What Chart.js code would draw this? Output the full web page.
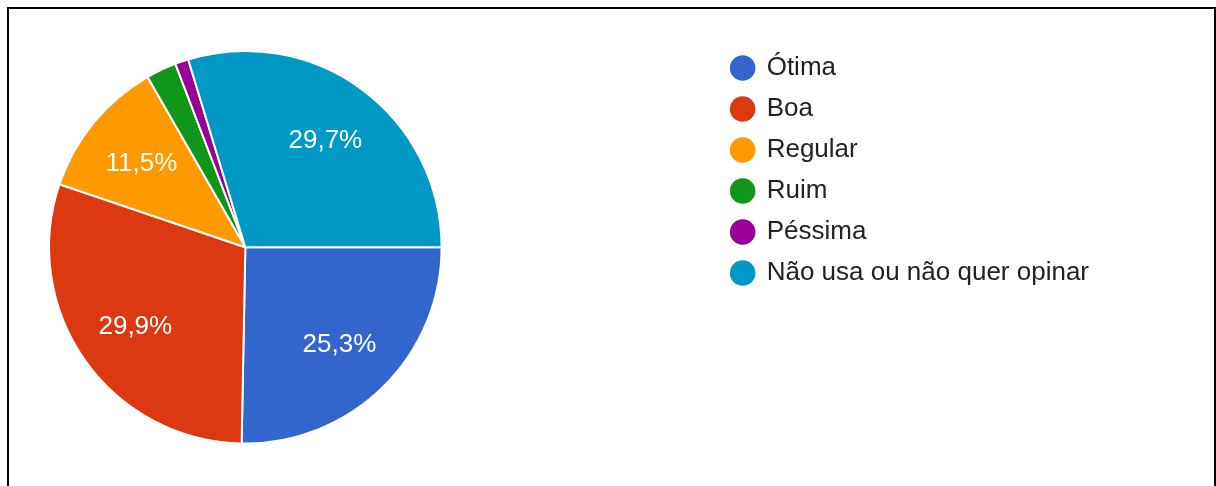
<!DOCTYPE html>
<html>
<head>
<meta charset="utf-8">
<script src="https://cdn.jsdelivr.net/npm/chart.js@4/dist/chart.umd.min.js"></script>
<style>
    html, body { margin: 0; padding: 0; background: #fff; overflow: hidden; }
    #frame {
        position: absolute; left: 7px; top: 7px;
        width: 1205px; height: 520px;
        border: 2px solid #000;
    }
    #wrap { position: absolute; left: 0; top: 0; width: 1216px; height: 486px; }
</style>
</head>
<body>
<div id="frame"></div>
<div id="wrap"><canvas id="pieChart" width="1216" height="486"></canvas></div>
<script>
const categories = ['Ótima', 'Boa', 'Regular', 'Ruim', 'Péssima', 'Não usa ou não quer opinar'];
const percents = [25.3, 29.9, 11.5, 2.5, 1.1, 29.7];
const colors = ['#3366cc', '#dc3912', '#ff9900', '#109618', '#990099', '#0099c6'];

const FONT = '"Liberation Sans", Arial, sans-serif';

// empty layout boxes, used to push the pie and the legend apart
function spacer(position, size) {
    return {
        position: position,
        weight: 0,
        fullSize: false,
        options: {},
        top: 0, left: 0, right: 0, bottom: 0, width: 0, height: 0,
        isHorizontal() { return position === 'top' || position === 'bottom'; },
        update(maxWidth, maxHeight) {
            if (this.isHorizontal()) { this.width = maxWidth; this.height = size; }
            else { this.width = size; this.height = maxHeight; }
        },
        getPadding() { return {top: 0, left: 0, right: 0, bottom: 0}; },
        draw() {}
    };
}

const spacerPlugin = {
    id: 'spacers',
    start(chart) {
        Chart.layouts.addBox(chart, spacer('top', 10));
        Chart.layouts.addBox(chart, spacer('bottom', 41.5));
        Chart.layouts.addBox(chart, spacer('right', 274));
    }
};

// percentage text inside the larger slices
const sliceLabels = {
    id: 'sliceLabels',
    afterDatasetsDraw(chart) {
        const ctx = chart.ctx;
        const meta = chart.getDatasetMeta(0);
        ctx.save();
        ctx.font = '26px ' + FONT;
        ctx.fillStyle = '#fff';
        ctx.textAlign = 'center';
        ctx.textBaseline = 'middle';
        meta.data.forEach((arc, i) => {
            const v = percents[i];
            if (v < 5) return;
            const p = arc.getProps(['x', 'y', 'startAngle', 'endAngle', 'outerRadius'], true);
            const mid = (p.startAngle + p.endAngle) / 2;
            const r = p.outerRadius * 0.685;
            const txt = v.toFixed(1).replace('.', ',') + '%';
            ctx.fillText(txt, p.x + Math.cos(mid) * r, p.y + Math.sin(mid) * r + 2);
        });
        ctx.restore();
    }
};

new Chart(document.getElementById('pieChart'), {
    type: 'pie',
    data: {
        labels: categories,
        datasets: [{
            data: percents,
            backgroundColor: colors,
            borderColor: '#fff',
            borderWidth: 2
        }]
    },
    options: {
        responsive: false,
        devicePixelRatio: 1,
        animation: false,
        rotation: 90,
        events: [],
        layout: { padding: { top: 40, left: 48, right: 117, bottom: 0 } },
        plugins: {
            tooltip: { enabled: false },
            legend: {
                position: 'right',
                align: 'start',
                maxWidth: 500,
                labels: {
                    usePointStyle: true,
                    pointStyle: 'circle',
                    boxWidth: 22,
                    boxHeight: 19.5,
                    padding: 15,
                    color: '#222',
                    font: { family: FONT, size: 26 }
                }
            }
        }
    },
    plugins: [spacerPlugin, sliceLabels]
});
</script>
</body>
</html>
